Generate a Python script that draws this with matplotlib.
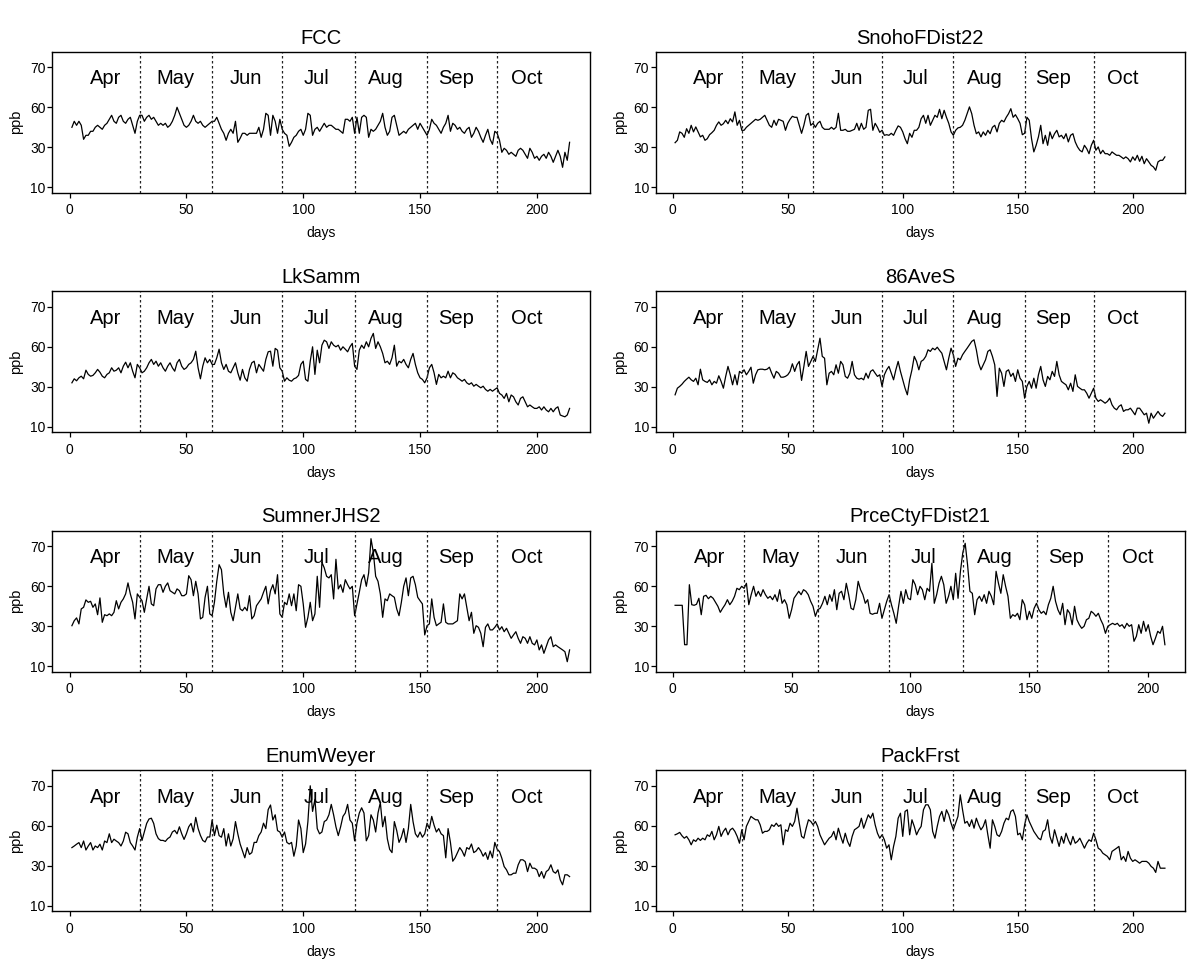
import matplotlib
matplotlib.use("Agg")
import matplotlib.pyplot as plt
import numpy as np

plt.rcParams['font.family'] = ['Liberation Sans', 'DejaVu Sans']

stations = ['FCC', 'SnohoFDist22', 'LkSamm', '86AveS',
            'SumnerJHS2', 'PrceCtyFDist21', 'EnumWeyer', 'PackFrst']
months = ['Apr', 'May', 'Jun', 'Jul', 'Aug', 'Sep', 'Oct']
month_label_days = [15.5, 45.5, 75.5, 105.5, 135.5, 165.5, 195.5]
month_breaks = [30, 61, 91, 122, 153, 183]
x_ticks = [0, 50, 100, 150, 200]
y_ticks = [10, 30, 50, 70]
y_tick_labels = ['10', '30', '60', '70']

fcc = [
    40, 43, 41, 43, 41, 34, 36, 36, 38, 38, 40, 41, 40, 39, 41, 42, 44, 46, 43, 42, 45, 46, 43, 42, 44, 45, 41, 37, 43, 46,
    46, 43, 45, 46, 44, 45, 43, 41, 42, 41, 42, 40, 41, 43, 46, 50, 47, 44, 41, 40, 41, 43, 46, 43, 42, 43, 41, 40, 41, 42, 43,
    43, 45, 42, 39, 37, 33.5, 37, 39, 37, 43, 32.5, 34.5, 37, 37, 36, 37, 37, 37, 37, 40, 35, 39, 47, 46, 36, 46, 43, 37, 44, 39,
    37, 36, 30.5, 32.5, 35, 36, 38, 39, 36, 39, 47, 46, 36, 39, 40, 38, 40, 42, 40, 41, 41, 40, 39, 39, 38, 37, 44, 44, 43, 45, 37,
    45, 37, 45, 46, 45, 35, 39, 38, 39, 41, 43, 47, 40, 36, 38, 45, 46, 41, 36, 37, 38, 37, 39, 40, 41, 42, 39, 42, 40, 38, 36,
    39, 44, 42, 41, 39, 37, 40, 42, 46, 38, 42, 41, 39, 40, 38, 37, 39, 40, 35, 37, 40, 38, 35, 32.5, 36, 39, 34, 31.5, 38, 37,
    33.5, 27.5, 29.5, 28.5, 26.5, 27.5, 26.5, 25.5, 28.5, 29.5, 28.5, 26.5, 24.5, 29.5, 27.5, 24.5, 25.5, 23.5, 25.5, 26.5,
    24.5, 27.5, 25.5, 22.5, 25.5, 28.5, 25.5, 20, 27.5, 23.5, 32.5,
]

snoho = [
    32.3, 33.5, 37.7, 37, 35, 39.3, 37, 41, 37.7, 40.2, 37.7, 35.2, 36, 33.5, 34.3, 36.3, 37.3, 38.5, 41, 42.7,
    41, 41.8, 43.5, 41.8, 44.3, 42.7, 47.7, 41, 43.5, 38.5,
    38.5, 40, 41, 42, 43, 44, 43.5, 44, 45, 46, 43.5, 41, 40, 43.5, 41, 44, 43.5, 43, 38.5, 42,
    44, 45.5, 45, 45, 41, 37, 41, 46, 47, 41, 42,
    40, 42, 43, 40, 39, 39, 39, 40, 39, 40, 47, 38.5, 38.5, 39, 38, 38, 38.5, 39, 42, 38.5,
    42, 39, 40, 48.5, 49, 38.5, 42, 40, 37.5, 38.5,
    36, 36.3, 36, 37, 36, 38.5, 40.7, 40, 37.7, 34.3, 31.8, 37, 35, 38.5, 38.5, 40, 44.3, 46, 42, 46,
    41, 43.5, 46, 45, 49, 44.3, 48.5, 45, 42, 37.7, 36,
    38.5, 39.7, 40, 41, 43.5, 46.8, 50.2, 46.8, 41, 36.8, 37.7, 35.2, 37.7, 36, 38.5, 36.8, 40, 41, 37.7, 42,
    43.5, 42.7, 45, 46.8, 49.3, 45, 46.3, 44.3, 42, 36.3, 37,
    45, 43.5, 34.3, 27.7, 31, 35.2, 41, 31.8, 36, 31, 37.7, 34.3, 36.8, 38.5, 35.2, 36, 34.3, 36.8, 32.7, 36,
    36.8, 32.7, 30.2, 28.5, 27.7, 31, 29.3, 26.8, 31, 33.5,
    28.5, 30.2, 26.8, 28.5, 26.8, 26.8, 26, 27.7, 26.8, 26, 26, 25.2, 24.3, 25.2, 24.3, 22.7, 25.2, 23.5, 26, 23,
    25.5, 21.8, 24.3, 22.7, 21, 20.2, 18.5, 22.7, 23.5, 23.5, 25.2,
]

lksamm = [
    32, 34, 33, 34.5, 35.3, 34, 38.3, 36.2, 35.3, 35.7, 37, 38.7, 37.3, 35.3, 34.5, 36.2, 37, 39.5, 37.8, 38.3,
    39.5, 37, 40.3, 42.3, 39.5, 42, 37.8, 34.5, 41.2, 39.5,
    37, 37.8, 39.5, 42, 43.7, 41.2, 42.8, 40.3, 42, 39.5, 37.8, 40.3, 42, 39.5, 37.8, 42, 43.7, 40.3, 38.7, 39.5,
    41.2, 42, 43.7, 47.8, 39.5, 34, 40.3, 44.5, 42, 43.7, 41.2,
    41.2, 44.5, 48.8, 42, 38.7, 41.2, 37.8, 37, 39.5, 42, 37, 33.3, 38.7, 34.5, 32.8, 38.7, 42, 42.8, 37, 41.2,
    39.5, 37.8, 43.7, 47.5, 47.8, 40.3, 49.2, 48.3, 39.5, 37.8,
    32.8, 34.5, 33.3, 32.8, 34, 34.5, 35.7, 41.2, 42.8, 33.7, 32.8, 42.8, 50, 36.2, 48.3, 42, 50.8, 53.3, 52.5, 49.2,
    52.5, 50.8, 50, 50.8, 48.3, 50, 48.8, 47.5, 50, 51.7, 40.3,
    38.7, 48.3, 50.8, 49.2, 52.5, 50, 54.2, 56.7, 49.2, 52.5, 50, 46.7, 42, 42.8, 41.2, 44.5, 50.8, 40.3, 42.8, 42,
    43.7, 41.2, 39.5, 43.7, 46.7, 41.2, 37, 34.5, 33.7, 32, 34.5,
    39.5, 41.2, 37, 31.2, 36.2, 34.5, 35.3, 34.5, 37.8, 34.5, 37, 36.2, 34.5, 33.7, 32.8, 33.7, 32, 31.2, 32, 30.3,
    31.2, 30.3, 29.5, 30.3, 28.7, 27.8, 28.7, 27.8, 28.7, 29.5,
    26.7, 25.9, 24.2, 26.7, 22.5, 25.9, 25, 22.5, 20.9, 24.2, 25, 22.5, 20, 20.9, 20, 19.2, 19.2, 20, 18.4, 20,
    18.4, 17.5, 19.2, 17.5, 19.2, 20, 15.9, 15.4, 15, 15.9, 19.2,
]

ave86s = [
    26, 29.3, 30.2, 31.3, 32.7, 33.8, 34.8, 33.5, 32.7, 34.3, 31, 38.8, 33.5, 32.7, 32.2, 33.5, 31, 32.7, 31.8, 35.5,
    32.7, 29.3, 35.2, 40.2, 36, 31, 36, 31, 37.7, 36.8,
    38.5, 36, 37.7, 39.8, 31.8, 36, 38.5, 38.8, 38.8, 38.5, 38.8, 39.8, 36.8, 34.3, 37.7, 36.8, 34.8, 34.8, 35.2, 36,
    37.7, 41.5, 37.7, 41, 42.7, 33.2, 40.2, 47.7, 40.2, 42.7, 45.2,
    42.7, 48.5, 54.3, 45.2, 44.3, 31, 36.8, 37.7, 36, 41, 36.8, 42.7, 41, 35.2, 34.3, 36.8, 42.7, 36, 34.3, 33.8,
    34.3, 33.5, 36.8, 34.3, 37.7, 38.5, 36.8, 35.2, 36, 30.2,
    36, 38.5, 40.2, 36.8, 33.5, 38.5, 42.7, 37.7, 33.5, 29.3, 26, 33.5, 38.5, 45.2, 42.7, 38.5, 42.7, 43.5, 45.2, 48.5,
    47.7, 49.3, 48.5, 49.8, 48.2, 46.8, 42.7, 38.5, 44.3, 49.3, 46,
    40.2, 44.3, 43.5, 46, 47.7, 49.3, 51, 52.7, 53.5, 48.5, 41.8, 38.5, 41, 43.5, 47.7, 48.5, 45.2, 41, 25.2, 39.3,
    36.8, 30.2, 37.7, 38.5, 35.2, 36.8, 32.7, 38.5, 34.3, 32.7, 24.3,
    30.2, 32.7, 29.3, 34.3, 29.3, 36, 40.2, 33.5, 30.2, 35.2, 33.5, 37.7, 35.2, 42.7, 36, 32.7, 31.8, 31, 28.5, 31.8,
    27.7, 36, 30.2, 29.3, 28.5, 28.5, 26.8, 24.3, 26.8, 29.3,
    24.3, 22.7, 23.5, 22.7, 21.8, 22.7, 24.3, 21, 19.3, 18.5, 20.2, 21, 17.7, 18.5, 18.5, 19.3, 17.7, 16, 19.3, 19.3,
    17.7, 16, 16.8, 11.8, 16.8, 14.3, 16, 17.7, 16, 15.2, 16.8,
]

sumner = [
    30.3, 32.8, 34.2, 31.2, 38.7, 39.5, 43.2, 42, 42.5, 39.5, 41.2, 35.8, 44.2, 32, 35.8, 35.3, 36.2, 35.3, 37, 42.8,
    38.7, 42, 43.7, 46.2, 51.7, 46.2, 42, 33.7, 46.2, 44.5,
    42.8, 37, 43.7, 50, 41.2, 40.3, 48.7, 50.8, 50.8, 47, 50, 51.7, 47.8, 47, 46.2, 48.7, 47.8, 45.3, 45.3, 46.2,
    55.3, 53.3, 45.3, 52.5, 46.2, 33.7, 34.5, 44.5, 50, 36.2, 35.3,
    42, 52.5, 60.8, 58.3, 46.2, 39.5, 47, 37, 32.8, 39.5, 46.2, 38.7, 37.8, 39.5, 37.8, 45.3, 33.7, 35.3, 40.3, 42,
    43.7, 47, 50, 41.2, 47.8, 50.8, 46.2, 55.8, 36.2, 34.5,
    42, 40.8, 46.2, 40.3, 46.2, 37.8, 50.8, 50, 41.2, 29.5, 34.5, 42, 32.8, 36.2, 55, 39.5, 62, 59.2, 55, 54.2,
    55.8, 43.7, 63.5, 48.7, 50.8, 47, 53.3, 50.8, 48.7, 50, 35.3,
    41.2, 47, 53.3, 55.8, 50, 56.7, 73.8, 67, 55, 52.5, 46.2, 34.5, 43.7, 42.8, 46.2, 45.3, 44.5, 38.7, 35.3, 42,
    50, 54.2, 45.3, 54.2, 55, 50.8, 44.5, 42.8, 41.2, 25.7, 30.3,
    31.2, 43.7, 34.5, 30.3, 31.2, 32, 41.2, 32, 31.2, 31.2, 31.2, 32, 32.8, 46.2, 43.7, 46.2, 39.5, 32.8, 37, 26.5,
    30.3, 29.5, 26.5, 19.8, 29.5, 31.2, 28.2, 28.2, 29.5, 31.2,
    28.2, 29.8, 27.3, 29, 26.5, 24, 25.7, 27.3, 24, 21.5, 24.8, 24, 21.5, 24.8, 21.5, 20.7, 23.2, 18.2, 20.7, 16.5,
    19.8, 23.2, 24.8, 19.8, 20.7, 19.8, 19, 18.2, 17.3, 12.3, 18.2,
]

prcecty = [
    40.5, 40.5, 40.5, 40.5, 20.8, 20.8, 50.8, 40.8, 40.5, 41, 44, 35.8, 45, 45.5, 43.8, 45, 44, 42, 40, 37,
    39, 40.8, 43.3, 40.8, 42.5, 45, 49, 48.3, 50, 49,
    51.5, 40.8, 45.8, 50, 45, 47.5, 45, 48.3, 45.8, 44, 45, 43.3, 45.8, 42.5, 48.3, 41.5, 43.3, 40.8, 34, 38.3,
    44, 45.8, 47.5, 45.8, 48.3, 47.5, 45.8, 42.5, 40, 35, 38.3,
    39, 41.5, 45, 40.8, 45.8, 42.5, 48.3, 38.3, 46.5, 47.5, 43.3, 51.5, 45.8, 39, 38.3, 43.3, 52.5, 48.3, 45.8, 41.5,
    43.3, 36.5, 36, 36.5, 36.5, 41.5, 34, 38.3, 42.5, 45.8,
    40.8, 36.5, 31.5, 40, 47.5, 41.5, 48.3, 44, 43.3, 53.3, 50.8, 45.8, 50, 48.3, 43.3, 49, 47.5, 61.5, 41.5, 45.8,
    51.5, 55, 50.8, 41.5, 45, 50, 43.3, 56.5, 44, 57.5, 66.8,
    71.5, 60.8, 47.5, 46.5, 35.8, 43.3, 45, 42.5, 45.8, 41.5, 47.5, 45, 40.8, 57.5, 51.5, 46.5, 55.8, 50, 45, 34,
    35.8, 35, 36.5, 33.3, 43.3, 40.8, 33.3, 37.5, 34, 39, 41.5,
    38.3, 36.5, 37.5, 35.8, 40.8, 44, 50, 42.5, 38.3, 35.8, 41.5, 30.8, 38.3, 36.5, 30.8, 40, 33.3, 30.8, 29, 30,
    33.3, 34, 37.5, 36.5, 35, 36.5, 33.3, 30.8, 26.5, 30,
    30.8, 31.5, 30.8, 31.5, 30, 30.8, 29, 31.5, 30, 30.8, 22.5, 25, 30.8, 26.5, 32.5, 27.5, 30.8, 25, 20.8, 24,
    27.5, 26.5, 30, 20.8,
]

enumweyer = [
    39.1, 39.9, 40.8, 41.6, 39.1, 42.4, 37.9, 39.9, 41.6, 37.9, 39.9, 39.1, 40.8, 37.9, 42.4, 41.6, 46, 41.6, 43.3, 42.4,
    41.6, 39.9, 42.4, 46.8, 46, 41.6, 39.9, 37.9, 44.3, 48.6,
    42.7, 46.9, 51.2, 53.4, 53.8, 51.2, 46, 43.6, 42.7, 42.7, 42.2, 43.6, 44.4, 46.9, 47.7, 46, 49.5, 46, 43.2, 46,
    49.5, 51.2, 46.9, 54.2, 48.7, 45.2, 42.7, 41.9, 44.4, 44.4, 52.9,
    45.1, 50.3, 45.1, 44.3, 48.6, 39.9, 46, 39.9, 43.5, 52.1, 46, 40.9, 37.4, 34, 39.1, 35.7, 36.6, 41.7, 41.7, 45.1,
    46.9, 51.3, 48.6, 58.1, 60.4, 52.9, 55.5, 47.6, 46.9, 44.3,
    46.9, 41.7, 40.9, 41.7, 34.8, 39.9, 52.9, 48.6, 36.6, 40.9, 52.1, 70, 57.2, 63.2, 48.6, 46, 46.9, 52.1, 52.9, 55.5,
    60.7, 55.5, 49.5, 45.1, 49.5, 54.7, 56.4, 60.7, 52.9, 51.3, 42.5,
    51.3, 56.4, 59, 56.4, 42.5, 45.1, 55.5, 52.9, 46.9, 56.4, 61.6, 49.5, 54.7, 43.5, 38.2, 36.6, 52.1, 47.7, 41.7, 44.3,
    48.6, 41.7, 48.6, 60.7, 52.1, 46, 44.3, 46.9, 44.3, 46, 51.3,
    48.6, 54.7, 50.3, 46.9, 48.6, 46, 45.1, 34, 48.6, 41.7, 32.3, 34, 36.6, 39.1, 37.4, 34.8, 39.1, 38.3, 40.9, 36.6,
    37.4, 39.1, 37.4, 34.8, 36.6, 33.2, 37.4, 34, 41.7, 38.3,
    37.1, 33.8, 29.6, 28, 25.5, 25.5, 26.3, 26.3, 30.5, 33, 33, 32.1, 27.1, 31.3, 28.8, 28.8, 28, 24.6, 27.1, 23.8,
    27.1, 28, 30.5, 27.1, 26.3, 28, 23, 20.5, 25.5, 25.5, 24.6,
]

packfrst = [
    45.5, 46, 46.7, 45, 43.8, 44.7, 43, 40.5, 43, 42.2, 43.8, 42.7, 43.8, 43, 45.5, 44.7, 47.2, 43, 45.5, 49.7,
    44.7, 47.2, 48.8, 45.5, 48, 48.8, 47.2, 44.7, 41.3, 48,
    43, 49.7, 52.2, 54.7, 53.8, 53, 53, 50.5, 46.3, 47.2, 47.2, 48, 50.5, 49.7, 51.3, 49.7, 50.5, 40.5, 48, 47.2,
    51.3, 49.7, 52.2, 58.8, 51.3, 44.7, 43.8, 48.8, 53, 52.2, 50.5,
    52.2, 49.7, 45.5, 43, 40.5, 42.2, 43.8, 44.7, 47.2, 43, 48.8, 44.7, 41.3, 46.3, 42.2, 39.7, 44.7, 48, 48.8, 49.7,
    53.8, 48.8, 52.2, 55.5, 53.8, 56.3, 50.5, 46.3, 43.8, 45.5,
    43, 38.8, 40.5, 33, 39.7, 44.7, 53.8, 56.3, 44.7, 57.2, 58, 45.5, 53, 49.7, 45.5, 48, 49.7, 58, 60.5, 60.5,
    58, 47.2, 43.8, 49.7, 54.7, 57.2, 52.2, 58, 55.5, 51.3, 48,
    51.3, 54.7, 65.5, 58, 51.3, 52.2, 49.7, 53, 48.8, 53.8, 50.5, 48, 49.7, 53, 45.5, 38.8, 53, 49.7, 45.5, 44.7,
    47.2, 51.3, 53.8, 53, 57.2, 58, 54.7, 45.5, 46.3, 43, 50.5,
    55.5, 52.2, 49.7, 47.2, 45.5, 43.8, 43, 47.2, 48, 53, 44.7, 41.3, 48, 43.8, 39.7, 44.7, 41.3, 46.3, 43, 40.5,
    44.7, 41.3, 42.2, 43.8, 41.3, 38.8, 41.3, 43, 42.2, 46.3,
    43, 38.8, 38, 36.3, 35.5, 34.7, 33, 37.2, 38, 38.8, 39.7, 33, 34.7, 32.2, 37.2, 33.8, 32.2, 33, 32.2, 31.3,
    32.2, 32.2, 32.2, 31.3, 29.7, 28.8, 26.7, 32.2, 28.8, 28.8, 28.8,
]

series = [fcc, snoho, lksamm, ave86s, sumner, prcecty, enumweyer, packfrst]

W, H = 1191, 963
fig = plt.figure(figsize=(W / 100, H / 100), dpi=100)

col_left = [52.0, 655.5]
col_width = [537.5, 529.0]
row_top0 = 51.7
row_step = 239.5
box_h = 141.0

for i, (name, vals) in enumerate(zip(stations, series)):
    r, c = divmod(i, 2)
    top = row_top0 + r * row_step
    ax = fig.add_axes([col_left[c] / W, 1 - (top + box_h) / H,
                       col_width[c] / W, box_h / H])
    n = len(vals)
    days = np.arange(1, n + 1)
    ax.plot(days, vals, color='black', lw=0.9)
    pad = 0.04 * (n - 1)
    ax.set_xlim(1 - pad, n + pad)
    ax.set_ylim(7.3, 77.8)
    for b in month_breaks:
        ax.axvline(b, color='#222222', lw=0.9, ls=(0, (2, 2)))
    for d, m in zip(month_label_days, months):
        ax.text(d, 64.2, m, ha='center', va='center', fontsize=14.5)
    ax.set_xticks(x_ticks)
    ax.set_xticklabels([str(t) for t in x_ticks])
    ax.set_yticks(y_ticks)
    ax.set_yticklabels(y_tick_labels)
    ax.tick_params(axis='both', direction='out', length=3.5, width=0.9,
                   labelsize=10, colors='black')
    ax.tick_params(axis='x', pad=4)
    ax.tick_params(axis='y', pad=1)
    for s in ax.spines.values():
        s.set_color('black')
        s.set_linewidth(1.0)
    w_px = col_width[c]
    ax.text(0.5, 1 + 13.7 / box_h, name, transform=ax.transAxes,
            ha='center', va='center', fontsize=14.5)
    ax.text(0.5, -40.5 / box_h, 'days', transform=ax.transAxes,
            ha='center', va='center', fontsize=10)
    ax.text(-35.5 / w_px, 0.5, 'ppb', transform=ax.transAxes,
            ha='center', va='center', rotation=90, fontsize=10.5)

fig.savefig('out.png', dpi=100)
